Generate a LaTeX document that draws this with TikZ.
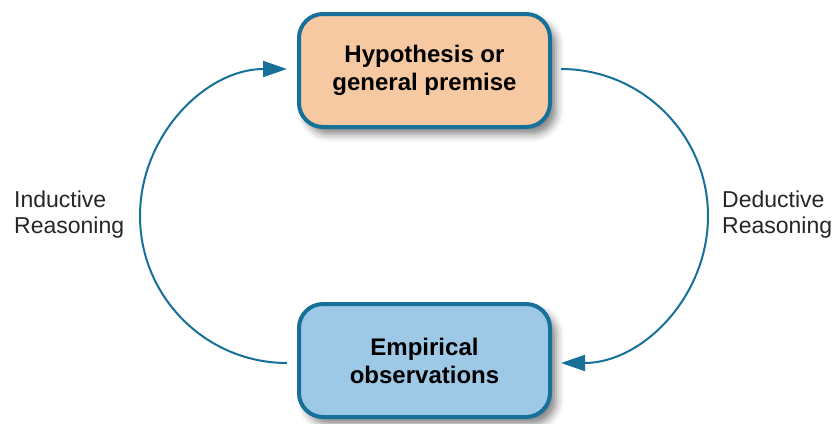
\documentclass[tikz,border=0pt]{standalone}
\usepackage{fontspec}
\setmainfont{Liberation Sans}
\usetikzlibrary{arrows.meta,shadows.blur}
\definecolor{edgeblue}{HTML}{17709A}
\definecolor{peach}{HTML}{F6C9A2}
\definecolor{skyfill}{HTML}{9DC8E6}
\tikzset{
  statebox/.style={draw=edgeblue, line width=4bp, rounded corners=24bp,
    minimum width=251bp, minimum height=113bp, align=center,
    font=\fontsize{24bp}{28bp}\selectfont\bfseries,
    blur shadow={shadow xshift=6bp, shadow yshift=-7bp, shadow blur radius=8bp, shadow opacity=50}},
  flow/.style={draw=edgeblue, line width=2bp, -{Triangle[length=24bp,width=16bp]}},
  sidelabel/.style={align=left, anchor=west, inner sep=0pt,
    font=\fontsize{23bp}{26bp}\selectfont, text=black!85}
}
\begin{document}
\begin{tikzpicture}[x=1bp,y=-1bp]
\useasboundingbox (0,0) rectangle (837,423);
\node[statebox, fill=peach] (hyp) at (424.5,70.5) {Hypothesis or\\general premise};
\node[statebox, fill=skyfill] (obs) at (424.5,360.5) {Empirical\\observations};
\coordinate (rs) at ([xshift=9bp,yshift=1.5bp]hyp.east);
\coordinate (re) at ([xshift=9bp,yshift=-2.5bp]obs.east);
\coordinate (ls) at ([xshift=-10bp,yshift=-2.5bp]obs.west);
\coordinate (le) at ([xshift=-10bp,yshift=1.5bp]hyp.west);
\coordinate (rm) at (708,216);
\coordinate (lm) at (140,216);
\draw[flow] (rs) .. controls +(81,0) and +(0,-81) .. (rm)
            .. controls +(0,81) and +(81,0) .. (re);
\draw[flow] (ls) .. controls +(-81,0) and +(0,81) .. (lm)
            .. controls +(0,-81) and +(-81,0) .. (le);
\node[sidelabel] (ind) at (14,215) {Inductive\\Reasoning};
\node[sidelabel] (ded) at (722,215) {Deductive\\Reasoning};
\end{tikzpicture}
\end{document}
